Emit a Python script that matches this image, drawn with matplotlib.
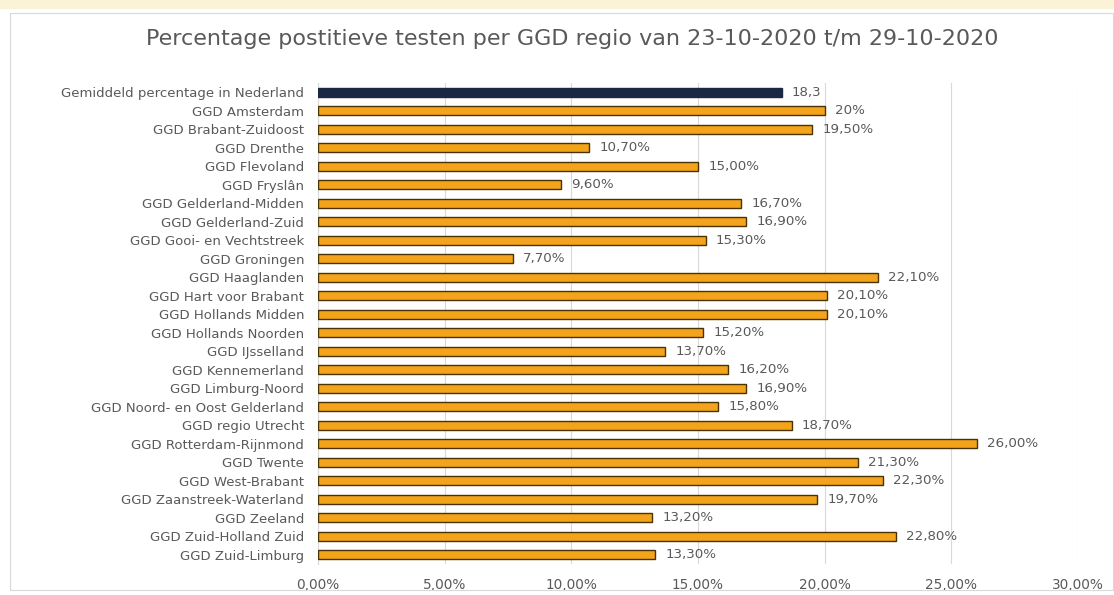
import matplotlib
matplotlib.use("Agg")
import matplotlib.pyplot as plt
from matplotlib.ticker import FuncFormatter
import matplotlib.patches as mpatches

# data
regions = [
    "Gemiddeld percentage in Nederland",
    "GGD Amsterdam",
    "GGD Brabant-Zuidoost",
    "GGD Drenthe",
    "GGD Flevoland",
    "GGD Fryslân",
    "GGD Gelderland-Midden",
    "GGD Gelderland-Zuid",
    "GGD Gooi- en Vechtstreek",
    "GGD Groningen",
    "GGD Haaglanden",
    "GGD Hart voor Brabant",
    "GGD Hollands Midden",
    "GGD Hollands Noorden",
    "GGD IJsselland",
    "GGD Kennemerland",
    "GGD Limburg-Noord",
    "GGD Noord- en Oost Gelderland",
    "GGD regio Utrecht",
    "GGD Rotterdam-Rijnmond",
    "GGD Twente",
    "GGD West-Brabant",
    "GGD Zaanstreek-Waterland",
    "GGD Zeeland",
    "GGD Zuid-Holland Zuid",
    "GGD Zuid-Limburg",
]
values = [18.3, 20.0, 19.5, 10.7, 15.0, 9.6, 16.7, 16.9, 15.3, 7.7, 22.1, 20.1,
          20.1, 15.2, 13.7, 16.2, 16.9, 15.8, 18.7, 26.0, 21.3, 22.3, 19.7, 13.2,
          22.8, 13.3]
labels = ["18,3", "20%", "19,50%", "10,70%", "15,00%", "9,60%", "16,70%", "16,90%",
          "15,30%", "7,70%", "22,10%", "20,10%", "20,10%", "15,20%", "13,70%",
          "16,20%", "16,90%", "15,80%", "18,70%", "26,00%", "21,30%", "22,30%",
          "19,70%", "13,20%", "22,80%", "13,30%"]
xticks = [0, 5, 10, 15, 20, 25, 30]

TXT = "#595959"
ORANGE = "#F4A41C"
EDGE = "#4A3300"
NAVY = "#1C2744"

plt.rcParams["font.family"] = ["DejaVu Sans"]

fig = plt.figure(figsize=(11.14, 5.95), dpi=100)

# gele band bovenaan (afgesneden kop uit het origineel)
fig.patches.append(mpatches.Rectangle((0, 0.985), 1, 0.015, transform=fig.transFigure,
                                      facecolor="#FBF3D6", edgecolor="none"))
fig.patches.append(mpatches.Rectangle((0.009, 0.008), 0.99, 0.97, transform=fig.transFigure,
                                      facecolor="none", edgecolor="#D9D9D9", lw=0.8))

ax = fig.add_axes([0.2855, 0.052, 0.6822, 0.8085])

y = list(range(len(regions)))
colors = [NAVY] + [ORANGE] * (len(regions) - 1)
edges = [NAVY] + [EDGE] * (len(regions) - 1)
ax.barh(y, values, height=0.5, color=colors, edgecolor=edges, linewidth=1.0, zorder=3)

for yi, v, lab in zip(y, values, labels):
    ax.text(v + 0.4, yi, lab, va="center", ha="left", fontsize=9.6, color=TXT, zorder=4)

ax.set_ylim(len(regions) - 0.5, -0.5)
ax.set_xlim(0, 30)
ax.set_yticks(y)
ax.set_yticklabels(regions, fontsize=9.5, color=TXT)
ax.set_xticks(xticks)
ax.xaxis.set_major_formatter(FuncFormatter(lambda v, p: f"{v:.2f}%".replace(".", ",")))
ax.tick_params(axis="x", labelsize=9.8, colors=TXT, length=0, pad=10)
ax.tick_params(axis="y", length=0, pad=10)

ax.grid(axis="x", color="#D9D9D9", linewidth=0.8, zorder=0)
ax.set_axisbelow(True)
for s in ["top", "right", "bottom"]:
    ax.spines[s].set_visible(False)
ax.spines["left"].set_color("#D9D9D9")

fig.text(0.514, 0.935, "Percentage postitieve testen per GGD regio van 23-10-2020 t/m 29-10-2020",
         ha="center", va="center", fontsize=16, color=TXT)

fig.savefig("out.png", dpi=100)
